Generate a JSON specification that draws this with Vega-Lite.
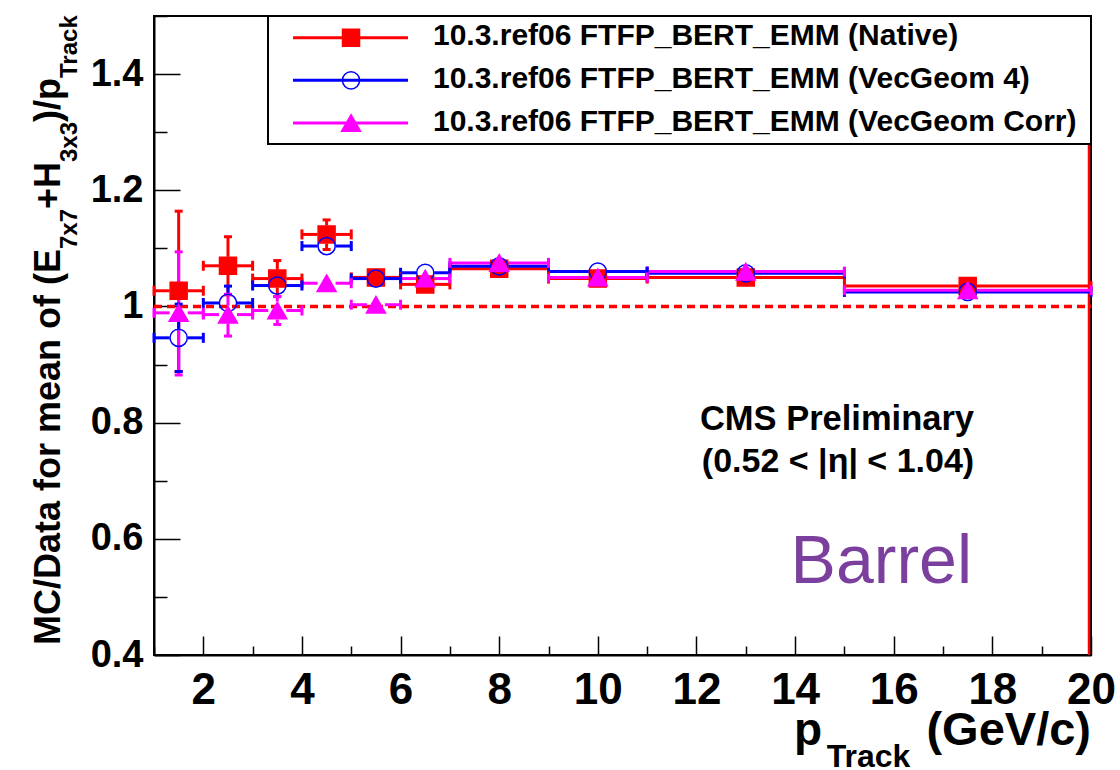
{
  "$schema": "https://vega.github.io/schema/vega-lite/v6.json",
  "width": 937,
  "height": 639,
  "autosize": {"type": "none"},
  "padding": {"left": 154, "top": 16, "right": 29, "bottom": 115},
  "background": "white",
  "config": {
    "view": {"stroke": "black", "strokeWidth": 2},
    "font": "Liberation Sans",
    "axis": {
      "domainColor": "black", "domainWidth": 2, "tickColor": "black", "tickWidth": 1.5,
      "labelColor": "black", "labelFont": "Liberation Sans", "labelFontWeight": "bold",
      "grid": false, "labelFlush": false, "labelOverlap": false, "labelBound": false
    }
  },
  "datasets": {
    "bins": [
      {"s": "Native", "x": 1.5, "lo": 1, "hi": 2, "y": 1.027},
      {"s": "Native", "x": 2.5, "lo": 2, "hi": 3, "y": 1.070},
      {"s": "Native", "x": 3.5, "lo": 3, "hi": 4, "y": 1.048},
      {"s": "Native", "x": 4.5, "lo": 4, "hi": 5, "y": 1.124},
      {"s": "Native", "x": 5.5, "lo": 5, "hi": 6, "y": 1.050},
      {"s": "Native", "x": 6.5, "lo": 6, "hi": 7, "y": 1.038},
      {"s": "Native", "x": 8, "lo": 7, "hi": 9, "y": 1.065},
      {"s": "Native", "x": 10, "lo": 9, "hi": 11, "y": 1.048},
      {"s": "Native", "x": 13, "lo": 11, "hi": 15, "y": 1.050},
      {"s": "Native", "x": 17.5, "lo": 15, "hi": 20, "y": 1.035},
      {"s": "VecGeom 4", "x": 1.5, "lo": 1, "hi": 2, "y": 0.946},
      {"s": "VecGeom 4", "x": 2.5, "lo": 2, "hi": 3, "y": 1.006},
      {"s": "VecGeom 4", "x": 3.5, "lo": 3, "hi": 4, "y": 1.036},
      {"s": "VecGeom 4", "x": 4.5, "lo": 4, "hi": 5, "y": 1.104},
      {"s": "VecGeom 4", "x": 5.5, "lo": 5, "hi": 6, "y": 1.048},
      {"s": "VecGeom 4", "x": 6.5, "lo": 6, "hi": 7, "y": 1.058},
      {"s": "VecGeom 4", "x": 8, "lo": 7, "hi": 9, "y": 1.069},
      {"s": "VecGeom 4", "x": 10, "lo": 9, "hi": 11, "y": 1.060},
      {"s": "VecGeom 4", "x": 13, "lo": 11, "hi": 15, "y": 1.057},
      {"s": "VecGeom 4", "x": 17.5, "lo": 15, "hi": 20, "y": 1.025},
      {"s": "VecGeom Corr", "x": 1.5, "lo": 1, "hi": 2, "y": 0.989},
      {"s": "VecGeom Corr", "x": 2.5, "lo": 2, "hi": 3, "y": 0.986},
      {"s": "VecGeom Corr", "x": 3.5, "lo": 3, "hi": 4, "y": 0.993},
      {"s": "VecGeom Corr", "x": 4.5, "lo": 4, "hi": 5, "y": 1.040},
      {"s": "VecGeom Corr", "x": 5.5, "lo": 5, "hi": 6, "y": 1.003},
      {"s": "VecGeom Corr", "x": 6.5, "lo": 6, "hi": 7, "y": 1.048},
      {"s": "VecGeom Corr", "x": 8, "lo": 7, "hi": 9, "y": 1.075},
      {"s": "VecGeom Corr", "x": 10, "lo": 9, "hi": 11, "y": 1.050},
      {"s": "VecGeom Corr", "x": 13, "lo": 11, "hi": 15, "y": 1.060},
      {"s": "VecGeom Corr", "x": 17.5, "lo": 15, "hi": 20, "y": 1.028}
    ],
    "err": [
      {"s": "Native", "x": 1.5, "y": 1.027, "ylo": 0.888, "yhi": 1.164},
      {"s": "Native", "x": 2.5, "y": 1.070, "ylo": 1.020, "yhi": 1.120},
      {"s": "Native", "x": 3.5, "y": 1.048, "ylo": 1.017, "yhi": 1.079},
      {"s": "Native", "x": 4.5, "y": 1.124, "ylo": 1.098, "yhi": 1.149},
      {"s": "VecGeom 4", "x": 1.5, "y": 0.946, "ylo": 0.888, "yhi": 1.004},
      {"s": "VecGeom 4", "x": 2.5, "y": 1.006, "ylo": 0.977, "yhi": 1.035},
      {"s": "VecGeom Corr", "x": 1.5, "y": 0.989, "ylo": 0.882, "yhi": 1.094},
      {"s": "VecGeom Corr", "x": 2.5, "y": 0.986, "ylo": 0.949, "yhi": 1.021},
      {"s": "VecGeom Corr", "x": 3.5, "y": 0.993, "ylo": 0.969, "yhi": 1.017}
    ],
    "leg": [
      {"s": "Native", "label": "10.3.ref06 FTFP_BERT_EMM (Native)"},
      {"s": "VecGeom 4", "label": "10.3.ref06 FTFP_BERT_EMM (VecGeom 4)"},
      {"s": "VecGeom Corr", "label": "10.3.ref06 FTFP_BERT_EMM (VecGeom Corr)"}
    ]
  },
  "resolve": {"scale": {"y": "independent"}, "axis": {"y": "independent"}},
  "layer": [
    {
      "layer": [
        {
          "data": {"values": [{}]},
          "mark": {"type": "rule", "stroke": "#ff0000", "strokeWidth": 3.5, "strokeDash": [8, 5], "strokeCap": "butt", "opacity": 1, "strokeOpacity": 1},
          "encoding": {
            "x": {"datum": 1, "type": "quantitative",
              "scale": {"domain": [1, 20], "nice": false, "zero": false},
              "axis": {
                "title": null,
                "values": [1,1.5,2,2.5,3,3.5,4,4.5,5,5.5,6,6.5,7,7.5,8,8.5,9,9.5,10,10.5,11,11.5,12,12.5,13,13.5,14,14.5,15,15.5,16,16.5,17,17.5,18,18.5,19,19.5,20],
                "labelExpr": "datum.value % 2 === 0 ? datum.label : ''",
                "tickSize": {"condition": {"test": "datum.value % 2 === 0", "value": -19}, "value": -9},
                "labelFontSize": 44, "labelPadding": 32
              }
            },
            "x2": {"datum": 20},
            "y": {"datum": 1, "type": "quantitative",
              "scale": {"domain": [0.4, 1.5], "nice": false, "zero": false},
              "axis": {
                "title": null,
                "values": [0.4,0.45,0.5,0.55,0.6,0.65,0.7,0.75,0.8,0.85,0.9,0.95,1,1.05,1.1,1.15,1.2,1.25,1.3,1.35,1.4,1.45,1.5],
                "labelExpr": "abs(datum.value*5 - round(datum.value*5)) < 0.01 ? format(datum.value, '.1~f') : ''",
                "tickSize": {"condition": {"test": "abs(datum.value*5 - round(datum.value*5)) < 0.01", "value": -26}, "value": -13},
                "labelFontSize": 38, "labelPadding": 37
              }
            }
          }
        },
        {
          "data": {"values": [{}]},
          "mark": {"type": "rule", "stroke": "#ff0000", "strokeWidth": 2.5, "xOffset": -2, "opacity": 1},
          "encoding": {
            "x": {"datum": 20, "type": "quantitative"},
            "y": {"datum": 0.4, "type": "quantitative"},
            "y2": {"datum": 1.5}
          }
        },
        {
          "data": {"name": "bins"},
          "mark": {"type": "rule", "strokeWidth": 3, "x2Offset": -9, "opacity": 1},
          "encoding": {
            "x": {"field": "lo", "type": "quantitative"},
            "x2": {"field": "x"},
            "y": {"field": "y", "type": "quantitative"},
            "stroke": {"field": "s", "type": "nominal", "legend": null,
              "scale": {"domain": ["Native", "VecGeom 4", "VecGeom Corr"], "range": ["#ff0000", "#0000ff", "#ff00ff"]}}
          }
        },
        {
          "data": {"name": "bins"},
          "mark": {"type": "rule", "strokeWidth": 3, "xOffset": 9, "opacity": 1},
          "encoding": {
            "x": {"field": "x", "type": "quantitative"},
            "x2": {"field": "hi"},
            "y": {"field": "y", "type": "quantitative"},
            "stroke": {"field": "s", "type": "nominal", "legend": null}
          }
        },
        {
          "data": {"name": "bins"},
          "mark": {"type": "tick", "orient": "vertical", "size": 10, "thickness": 3, "opacity": 1},
          "encoding": {
            "x": {"field": "lo", "type": "quantitative"},
            "y": {"field": "y", "type": "quantitative"},
            "color": {"field": "s", "type": "nominal", "legend": null,
              "scale": {"domain": ["Native", "VecGeom 4", "VecGeom Corr"], "range": ["#ff0000", "#0000ff", "#ff00ff"]}}
          }
        },
        {
          "data": {"name": "bins"},
          "mark": {"type": "tick", "orient": "vertical", "size": 10, "thickness": 3, "opacity": 1},
          "encoding": {
            "x": {"field": "hi", "type": "quantitative"},
            "y": {"field": "y", "type": "quantitative"},
            "color": {"field": "s", "type": "nominal", "legend": null}
          }
        },
        {
          "data": {"name": "err"},
          "mark": {"type": "rule", "strokeWidth": 3, "y2Offset": 9, "opacity": 1},
          "encoding": {
            "x": {"field": "x", "type": "quantitative"},
            "y": {"field": "ylo", "type": "quantitative"},
            "y2": {"field": "y"},
            "stroke": {"field": "s", "type": "nominal", "legend": null}
          }
        },
        {
          "data": {"name": "err"},
          "mark": {"type": "rule", "strokeWidth": 3, "yOffset": -9, "opacity": 1},
          "encoding": {
            "x": {"field": "x", "type": "quantitative"},
            "y": {"field": "y", "type": "quantitative"},
            "y2": {"field": "yhi"},
            "stroke": {"field": "s", "type": "nominal", "legend": null}
          }
        },
        {
          "data": {"name": "err"},
          "mark": {"type": "tick", "orient": "horizontal", "size": 8, "thickness": 3, "opacity": 1},
          "encoding": {
            "x": {"field": "x", "type": "quantitative"},
            "y": {"field": "ylo", "type": "quantitative"},
            "color": {"field": "s", "type": "nominal", "legend": null}
          }
        },
        {
          "data": {"name": "err"},
          "mark": {"type": "tick", "orient": "horizontal", "size": 8, "thickness": 3, "opacity": 1},
          "encoding": {
            "x": {"field": "x", "type": "quantitative"},
            "y": {"field": "yhi", "type": "quantitative"},
            "color": {"field": "s", "type": "nominal", "legend": null}
          }
        },
        {
          "data": {"name": "bins"},
          "mark": {"type": "point", "size": 400, "strokeWidth": 1.5, "opacity": 1, "filled": true},
          "encoding": {
            "x": {"field": "x", "type": "quantitative"},
            "y": {"field": "y", "type": "quantitative"},
            "shape": {"field": "s", "type": "nominal", "legend": null,
              "scale": {"domain": ["Native", "VecGeom 4", "VecGeom Corr"],
                "range": ["M-0.85,-0.85H0.85V0.85H-0.85Z", "M-0.86,0A0.86,0.86 0 1,0 0.86,0A0.86,0.86 0 1,0 -0.86,0Z", "M0,-0.83L0.95,0.83L-0.95,0.83Z"]}},
            "fill": {"field": "s", "type": "nominal", "legend": null,
              "scale": {"domain": ["Native", "VecGeom 4", "VecGeom Corr"], "range": ["#ff0000", "rgba(255,255,255,0)", "#ff00ff"]}},
            "stroke": {"field": "s", "type": "nominal", "legend": null}
          }
        },
        {
          "data": {"values": [{}]},
          "mark": {"type": "text", "text": "CMS Preliminary", "align": "center", "baseline": "alphabetic", "fontSize": 34.5, "fontWeight": "bold", "font": "Liberation Sans", "color": "black", "clip": false},
          "encoding": {"x": {"datum": 14.849, "type": "quantitative"}, "y": {"datum": 0.7873, "type": "quantitative"}}
        },
        {
          "data": {"values": [{}]},
          "mark": {"type": "text", "text": "(0.52 < |η| < 1.04)", "align": "center", "baseline": "alphabetic", "fontSize": 34, "fontWeight": "bold", "font": "Liberation Sans", "color": "black", "clip": false},
          "encoding": {"x": {"datum": 14.87, "type": "quantitative"}, "y": {"datum": 0.715, "type": "quantitative"}}
        },
        {
          "data": {"values": [{}]},
          "mark": {"type": "text", "text": "Barrel", "align": "right", "baseline": "alphabetic", "fontSize": 68, "font": "Liberation Sans", "color": "#7b3f9e", "clip": false},
          "encoding": {"x": {"datum": 17.587, "type": "quantitative"}, "y": {"datum": 0.524, "type": "quantitative"}}
        },
        {
          "data": {"values": [{}]},
          "mark": {"type": "text", "text": "p", "align": "left", "baseline": "alphabetic", "fontSize": 46, "fontWeight": "bold", "font": "Liberation Sans", "color": "black", "clip": false},
          "encoding": {"x": {"datum": 13.98, "type": "quantitative"}, "y": {"datum": 0.2451, "type": "quantitative"}}
        },
        {
          "data": {"values": [{}]},
          "mark": {"type": "text", "text": "Track", "align": "left", "baseline": "alphabetic", "fontSize": 32, "fontWeight": "bold", "font": "Liberation Sans", "color": "black", "clip": false},
          "encoding": {"x": {"datum": 14.64, "type": "quantitative"}, "y": {"datum": 0.2075, "type": "quantitative"}}
        },
        {
          "data": {"values": [{}]},
          "mark": {"type": "text", "text": "(GeV/c)", "align": "right", "baseline": "alphabetic", "fontSize": 47, "fontWeight": "bold", "font": "Liberation Sans", "color": "black", "clip": false},
          "encoding": {"x": {"datum": 20.0, "type": "quantitative"}, "y": {"datum": 0.2451, "type": "quantitative"}}
        },
        {
          "data": {"values": [{}]},
          "mark": {"type": "text", "text": "MC/Data for mean of (E", "angle": 270, "align": "left", "baseline": "alphabetic", "fontSize": 36, "fontWeight": "bold", "font": "Liberation Sans", "color": "black", "clip": false},
          "encoding": {"x": {"datum": -0.906, "type": "quantitative"}, "y": {"datum": 0.4172, "type": "quantitative"}}
        },
        {
          "data": {"values": [{}]},
          "mark": {"type": "text", "text": "7x7", "angle": 270, "align": "left", "baseline": "alphabetic", "fontSize": 24, "fontWeight": "bold", "font": "Liberation Sans", "color": "black", "clip": false},
          "encoding": {"x": {"datum": -0.561, "type": "quantitative"}, "y": {"datum": 1.0989, "type": "quantitative"}}
        },
        {
          "data": {"values": [{}]},
          "mark": {"type": "text", "text": "+H", "angle": 270, "align": "left", "baseline": "alphabetic", "fontSize": 36, "fontWeight": "bold", "font": "Liberation Sans", "color": "black", "clip": false},
          "encoding": {"x": {"datum": -0.906, "type": "quantitative"}, "y": {"datum": 1.1678, "type": "quantitative"}}
        },
        {
          "data": {"values": [{}]},
          "mark": {"type": "text", "text": "3x3", "angle": 270, "align": "left", "baseline": "alphabetic", "fontSize": 24, "fontWeight": "bold", "font": "Liberation Sans", "color": "black", "clip": false},
          "encoding": {"x": {"datum": -0.561, "type": "quantitative"}, "y": {"datum": 1.2487, "type": "quantitative"}}
        },
        {
          "data": {"values": [{}]},
          "mark": {"type": "text", "text": ")/p", "angle": 270, "align": "left", "baseline": "alphabetic", "fontSize": 36, "fontWeight": "bold", "font": "Liberation Sans", "color": "black", "clip": false},
          "encoding": {"x": {"datum": -0.906, "type": "quantitative"}, "y": {"datum": 1.3175, "type": "quantitative"}}
        },
        {
          "data": {"values": [{}]},
          "mark": {"type": "text", "text": "Track", "angle": 270, "align": "left", "baseline": "alphabetic", "fontSize": 24, "fontWeight": "bold", "font": "Liberation Sans", "color": "black", "clip": false},
          "encoding": {"x": {"datum": -0.561, "type": "quantitative"}, "y": {"datum": 1.3933, "type": "quantitative"}}
        },
        {
          "data": {"values": [{}]},
          "mark": {"type": "rect", "fill": "white", "stroke": "black", "strokeWidth": 2},
          "encoding": {
            "x": {"datum": 3.312, "type": "quantitative"},
            "x2": {"datum": 20},
            "y": {"datum": 1.5, "type": "quantitative"},
            "y2": {"datum": 1.2797}
          }
        }
      ]
    },
    {
      "data": {"name": "leg"},
      "encoding": {
        "y": {"field": "s", "type": "nominal", "axis": null,
          "scale": {"type": "point", "domain": ["Native", "VecGeom 4", "VecGeom Corr"], "range": [21.7, 107], "padding": 0}}
      },
      "layer": [
        {
          "mark": {"type": "rule", "strokeWidth": 3, "opacity": 1},
          "encoding": {
            "x": {"datum": 3.819, "type": "quantitative"},
            "x2": {"datum": 6.15},
            "stroke": {"field": "s", "type": "nominal", "legend": null}
          }
        },
        {
          "mark": {"type": "point", "size": 400, "strokeWidth": 1.5, "opacity": 1, "filled": true},
          "encoding": {
            "x": {"datum": 4.995, "type": "quantitative"},
            "shape": {"field": "s", "type": "nominal", "legend": null},
            "fill": {"field": "s", "type": "nominal", "legend": null},
            "stroke": {"field": "s", "type": "nominal", "legend": null}
          }
        },
        {
          "mark": {"type": "text", "align": "left", "baseline": "alphabetic", "dy": 7.5, "fontSize": 30, "fontWeight": "bold", "font": "Liberation Sans", "color": "black"},
          "encoding": {
            "x": {"datum": 6.657, "type": "quantitative"},
            "text": {"field": "label"}
          }
        }
      ]
    }
  ]
}
